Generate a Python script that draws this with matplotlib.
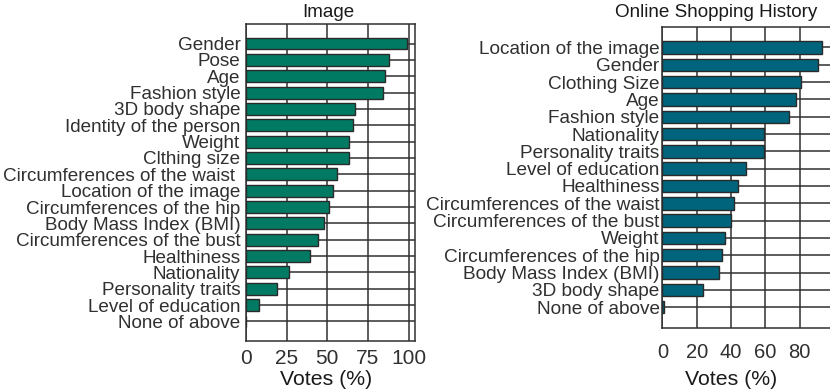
import matplotlib
matplotlib.use('Agg')
import matplotlib.pyplot as plt

plt.rcParams['font.family'] = ['Liberation Sans', 'DejaVu Sans']

# Image panel data
image_labels = ['Gender', 'Pose', 'Age', 'Fashion style', '3D body shape',
                'Identity of the person', 'Weight', 'Clthing size',
                'Circumferences of the waist ', 'Location of the image',
                'Circumferences of the hip', 'Body Mass Index (BMI)',
                'Circumferences of the bust', 'Healthiness', 'Nationality',
                'Personality traits', 'Level of education', 'None of above']
image_votes = [99.1, 88.0, 85.8, 84.6, 66.8, 65.7, 63.5, 63.5, 55.7, 53.4,
               51.2, 47.9, 44.4, 39.1, 26.6, 18.9, 7.8, 0.0]

# Online shopping history panel data
shop_labels = ['Location of the image', 'Gender', 'Clothing Size', 'Age',
               'Fashion style', 'Nationality', 'Personality traits',
               'Level of education', 'Healthiness', 'Circumferences of the waist',
               'Circumferences of the bust', 'Weight', 'Circumferences of the hip',
               'Body Mass Index (BMI)', '3D body shape', 'None of above']
shop_votes = [92.9, 91.0, 80.7, 77.8, 74.1, 59.5, 59.5, 48.6, 44.3, 42.0,
              39.9, 36.6, 34.6, 33.2, 23.5, 1.2]

text_col = '#303030'
grid_col = '#303030'

fig = plt.figure(figsize=(8.30, 3.92), dpi=100)


def draw_panel(ax, labels, votes, color, xlim, xticks, label_size, tick_size, pad, xpad):
    y = list(range(len(labels)))
    ax.barh(y, votes, height=0.72, color=color, edgecolor='#2a2a2a', linewidth=1.0, zorder=3)
    ax.set_yticks(y)
    ax.set_yticklabels(labels, fontsize=label_size, color=text_col)
    ax.set_xticks(xticks)
    ax.set_xticklabels([str(t) for t in xticks], fontsize=tick_size, color=text_col)
    ax.set_xlim(*xlim)
    ax.set_ylim(len(labels) - 1 + 1.2, -1.2)
    ax.set_axisbelow(True)
    ax.grid(True, color=grid_col, linewidth=1.1)
    ax.tick_params(axis='y', length=0, pad=pad)
    ax.tick_params(axis='x', length=0, pad=xpad)
    for s in ax.spines.values():
        s.set_color(grid_col)
        s.set_linewidth(1.1)


ax1 = fig.add_axes([0.2964, 0.1301, 0.2036, 0.8087])
draw_panel(ax1, image_labels, image_votes, '#007a62', (0, 104), [0, 25, 50, 75, 100], 13.6, 15, 4, 6)

ax2 = fig.add_axes([0.798, 0.1633, 0.2066, 0.7686])
draw_panel(ax2, shop_labels, shop_votes, '#00647c', (0, 100), [0, 20, 40, 60, 80], 13.7, 14.5, 2, 11)

fig.text(0.395, 0.969, 'Image', ha='center', va='center', fontsize=13.5, color='#1a1a1a')
fig.text(0.8627, 0.967, 'Online Shopping History', ha='center', va='center', fontsize=13.6, color='#1a1a1a')
fig.text(0.393, 0.032, 'Votes (%)', ha='center', va='center', fontsize=15.3, color='#1a1a1a')
fig.text(0.881, 0.031, 'Votes (%)', ha='center', va='center', fontsize=15.3, color='#1a1a1a')

fig.savefig('out.png', dpi=100)
